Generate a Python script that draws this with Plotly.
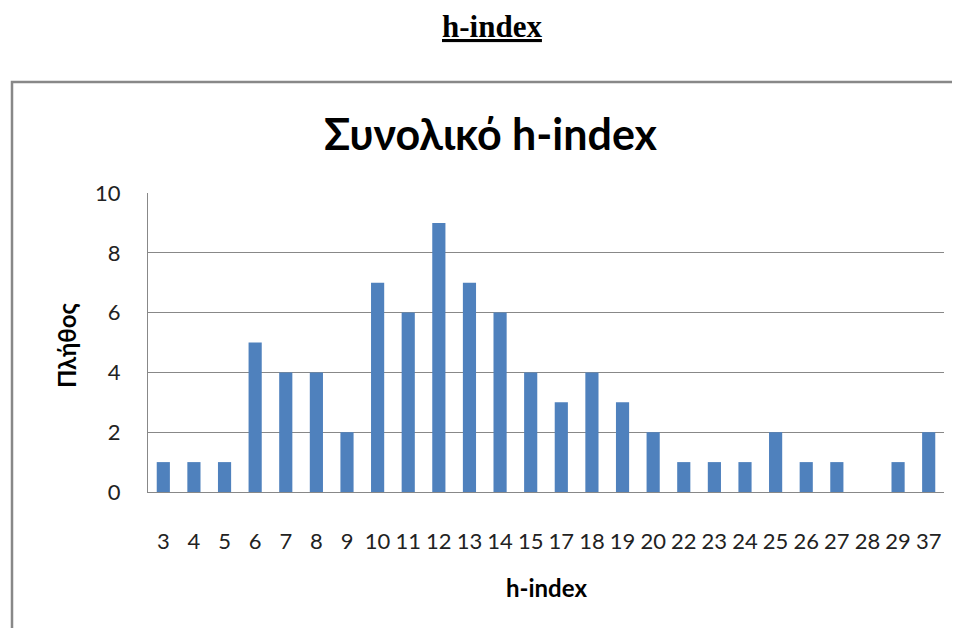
import plotly.graph_objects as go

categories = ["3", "4", "5", "6", "7", "8", "9", "10", "11", "12", "13", "14", "15",
              "17", "18", "19", "20", "22", "23", "24", "25", "26", "27", "28", "29", "37"]
counts = [1, 1, 1, 5, 4, 4, 2, 7, 6, 9, 7, 6, 4, 3, 4, 3, 2, 1, 1, 1, 2, 1, 1, 0, 1, 2]
y_ticks = [0, 2, 4, 6, 8, 10]

OFF = 8  # page body margin
W, H = 960 - OFF, 628 - OFF
px = lambda x: (x - OFF) / W
py = lambda y: 1 - (y - OFF) / H

FONT = "Lato, 'Noto Sans', sans-serif"

fig = go.Figure(go.Bar(x=categories, y=counts, marker_color="#4F81BD",
                       marker_line_width=0))

fig.update_layout(
    width=W, height=H, margin=dict(l=0, r=0, t=0, b=0),
    paper_bgcolor="white", plot_bgcolor="white",
    bargap=0.57, showlegend=False,
    font=dict(family=FONT, size=22, color="#222"),
    xaxis=dict(domain=[px(148), px(944)], type="category", showgrid=False,
               showline=True, linecolor="#888", linewidth=1, automargin=False,
               ticks="", ticklabelstandoff=30, tickfont=dict(size=22)),
    yaxis=dict(domain=[py(492), py(193)], range=[0, 10], tickvals=y_ticks,
               showgrid=True, gridcolor="#888", gridwidth=1, automargin=False,
               showline=True, linecolor="#888", linewidth=1,
               zeroline=False, ticks="", ticklabelstandoff=22,
               tickfont=dict(size=22)),
    shapes=[dict(type="rect", xref="paper", yref="paper",
                 x0=px(12), x1=1.05, y0=-0.05, y1=py(82),
                 line=dict(color="#888", width=2.5), layer="below")],
    annotations=[
        dict(text="<b><u>h-index</u></b>", xref="paper", yref="paper",
             x=px(492), y=py(27), showarrow=False, xanchor="center", yanchor="middle",
             font=dict(family="'Liberation Serif', serif", size=31, color="black")),
        dict(text="<b>Συνολικό h-index</b>", xref="paper", yref="paper",
             x=px(491), y=py(133), showarrow=False, xanchor="center", yanchor="middle",
             font=dict(family=FONT, size=43, color="black")),
        dict(text="<b>Πλήθος</b>", xref="paper", yref="paper", textangle=-90,
             x=px(66), y=py(345), showarrow=False, xanchor="center", yanchor="middle",
             font=dict(family=FONT, size=24, color="black")),
        dict(text="<b>h-index</b>", xref="paper", yref="paper",
             x=px(546), y=py(587), showarrow=False, xanchor="center", yanchor="middle",
             font=dict(family=FONT, size=24, color="black")),
    ],
)

fig.write_html("out.html")
